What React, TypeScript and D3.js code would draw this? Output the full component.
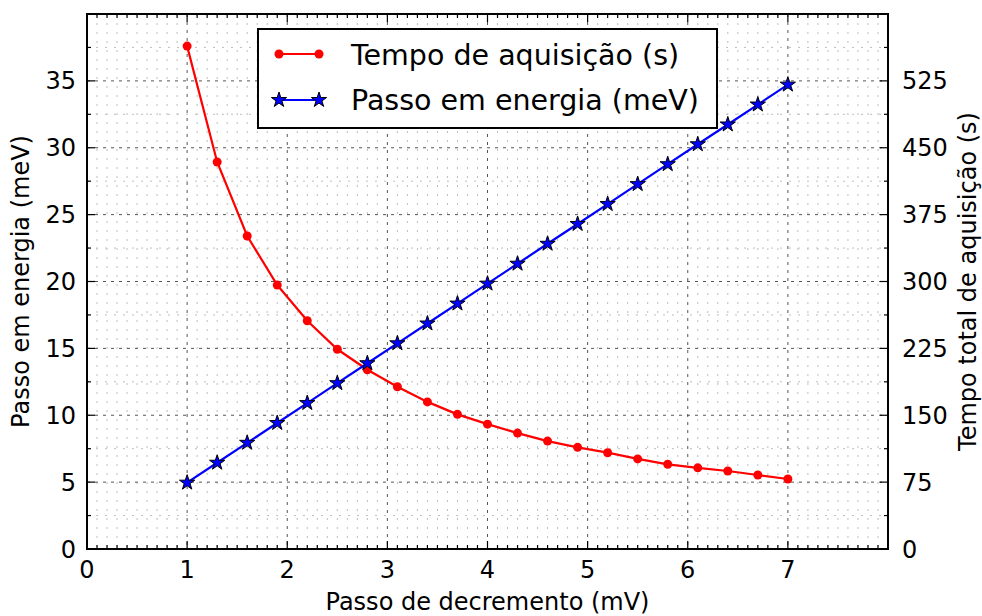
import * as d3 from "d3";
import React from "react";

// passo de decremento (mV)
const decrement = [1.0, 1.3, 1.6, 1.9, 2.2, 2.5, 2.8, 3.1, 3.4, 3.7, 4.0, 4.3, 4.6, 4.9, 5.2, 5.5, 5.8, 6.1, 6.4, 6.7, 7.0];
// tempo de aquisicao (s) - right axis
const acqTime = [564, 434, 351, 296, 256, 224, 201, 182, 165, 151, 140, 130, 121, 114, 108, 101, 95, 91, 87.5, 83, 78.5];
// passo em energia (meV) - left axis
const energyStep = [4.96, 6.45, 7.94, 9.42, 10.91, 12.4, 13.89, 15.38, 16.86, 18.35, 19.84, 21.33, 22.82, 24.3, 25.79, 27.28, 28.77, 30.26, 31.74, 33.23, 34.72];

const xTicks = [0, 1, 2, 3, 4, 5, 6, 7];
const leftTicks = [0, 5, 10, 15, 20, 25, 30, 35];
const rightTicks = [0, 75, 150, 225, 300, 375, 450, 525];

const legendLabels = ["Tempo de aquisição (s)", "Passo em energia (meV)"];

const W = 982;
const H = 616;
const left = 87;
const right = 888;
const top = 14;
const bottom = 549;
const font = "DejaVu Sans, sans-serif";

export default function App() {
  const x = d3.scaleLinear().domain([0, 8]).range([left, right]);
  const yL = d3.scaleLinear().domain([0, 40]).range([bottom, top]);
  const yR = d3.scaleLinear().domain([0, 600]).range([bottom, top]);

  const xMinor = d3.range(1, 80).map((i) => i / 10).filter((v) => Math.abs(v - Math.round(v)) > 1e-6);
  const yMinor = d3.range(0, 8).map((i) => i * 5 + 2.5);

  const redLine = d3
    .line<number>()
    .x((_, i) => x(decrement[i]))
    .y((d) => yR(d));
  const blueLine = d3
    .line<number>()
    .x((_, i) => x(decrement[i]))
    .y((d) => yL(d));
  const star = d3.symbol().type(d3.symbolStar).size(72)() as string;

  return (
    <svg width={W} height={H} style={{ position: "absolute", left: 0, top: 0 }} fontFamily={font}>
      <rect width={W} height={H} fill="#fff" />
      {/* minor grid */}
      <g stroke="#bdbdbd" strokeWidth={1} strokeDasharray="2,7">
        {xMinor.map((v) => (
          <line key={"xm" + v} x1={x(v)} x2={x(v)} y1={top} y2={bottom} />
        ))}
        {yMinor.map((v) => (
          <line key={"ym" + v} x1={left} x2={right} y1={yL(v)} y2={yL(v)} />
        ))}
      </g>
      {/* major grid */}
      <g stroke="#555" strokeWidth={1} strokeDasharray="3,5">
        {xTicks.slice(1).map((v) => (
          <line key={"xg" + v} x1={x(v)} x2={x(v)} y1={top} y2={bottom} />
        ))}
        {leftTicks.slice(1).map((v) => (
          <line key={"yg" + v} x1={left} x2={right} y1={yL(v)} y2={yL(v)} />
        ))}
      </g>

      {/* series */}
      <path d={redLine(acqTime) as string} fill="none" stroke="#ff0000" strokeWidth={2.2} />
      {acqTime.map((v, i) => (
        <circle key={"r" + i} cx={x(decrement[i])} cy={yR(v)} r={4.5} fill="#ff0000" />
      ))}
      <path d={blueLine(energyStep) as string} fill="none" stroke="#0000ff" strokeWidth={2.2} />
      {energyStep.map((v, i) => (
        <path
          key={"b" + i}
          d={star}
          transform={`translate(${x(decrement[i])},${yL(v)})`}
          fill="#0000ff"
          stroke="#000"
          strokeWidth={1}
        />
      ))}

      {/* ticks, inward on all sides */}
      <g stroke="#000" strokeWidth={1.2}>
        {xTicks.map((v) => (
          <g key={"xt" + v}>
            <line x1={x(v)} x2={x(v)} y1={bottom} y2={bottom - 8} />
            <line x1={x(v)} x2={x(v)} y1={top} y2={top + 8} />
          </g>
        ))}
        {xMinor.map((v) => (
          <g key={"xmt" + v}>
            <line x1={x(v)} x2={x(v)} y1={bottom} y2={bottom - 4} />
            <line x1={x(v)} x2={x(v)} y1={top} y2={top + 4} />
          </g>
        ))}
        {leftTicks.map((v) => (
          <line key={"lt" + v} x1={left} x2={left + 8} y1={yL(v)} y2={yL(v)} />
        ))}
        {yMinor.map((v) => (
          <g key={"ymt" + v}>
            <line x1={left} x2={left + 4} y1={yL(v)} y2={yL(v)} />
            <line x1={right} x2={right - 4} y1={yL(v)} y2={yL(v)} />
          </g>
        ))}
        {rightTicks.map((v) => (
          <line key={"rt" + v} x1={right} x2={right - 8} y1={yR(v)} y2={yR(v)} />
        ))}
      </g>

      {/* frame */}
      <rect x={left} y={top} width={right - left} height={bottom - top} fill="none" stroke="#000" strokeWidth={2} />

      {/* tick labels */}
      <g fontSize={24} fill="#000">
        {xTicks.map((v) => (
          <text key={"xl" + v} x={x(v)} y={578} textAnchor="middle">
            {v}
          </text>
        ))}
        {leftTicks.map((v) => (
          <text key={"ll" + v} x={76} y={yL(v) + 8.5} textAnchor="end">
            {v}
          </text>
        ))}
        {rightTicks.map((v) => (
          <text key={"rl" + v} x={902} y={yR(v) + 8.5} textAnchor="start">
            {v}
          </text>
        ))}
      </g>

      {/* axis labels */}
      <text x={(left + right) / 2} y={610} fontSize={24} textAnchor="middle">
        Passo de decremento (mV)
      </text>
      <text transform={`translate(29,${(top + bottom) / 2}) rotate(-90)`} fontSize={24} textAnchor="middle">
        Passo em energia (meV)
      </text>
      <text transform={`translate(976,${(top + bottom) / 2}) rotate(-90)`} fontSize={24} textAnchor="middle">
        Tempo total de aquisição (s)
      </text>

      {/* legend */}
      <rect x={258} y={29} width={459} height={99} fill="#fff" stroke="#000" strokeWidth={2} />
      <line x1={279} x2={319} y1={54} y2={54} stroke="#ff0000" strokeWidth={2.2} />
      <circle cx={279} cy={54} r={4.5} fill="#ff0000" />
      <circle cx={319} cy={54} r={4.5} fill="#ff0000" />
      <line x1={279} x2={319} y1={100} y2={100} stroke="#0000ff" strokeWidth={2.2} />
      <path d={star} transform="translate(279,100)" fill="#0000ff" stroke="#000" strokeWidth={1} />
      <path d={star} transform="translate(319,100)" fill="#0000ff" stroke="#000" strokeWidth={1} />
      <text x={351} y={65} fontSize={28.5}>
        {legendLabels[0]}
      </text>
      <text x={351} y={110} fontSize={28.5}>
        {legendLabels[1]}
      </text>
    </svg>
  );
}
